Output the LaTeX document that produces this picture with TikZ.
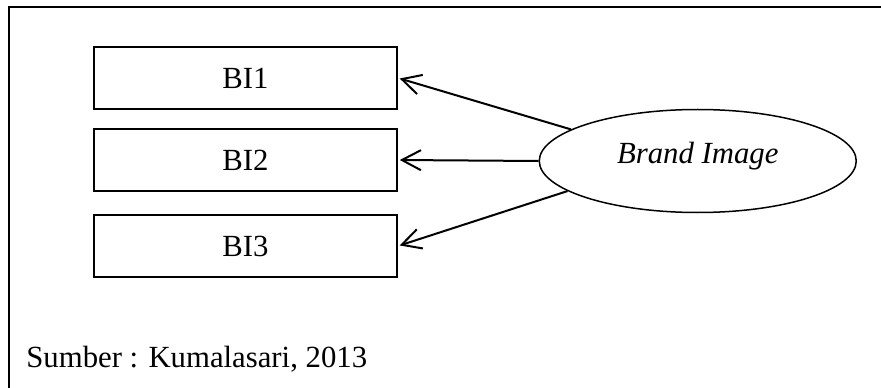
\documentclass[tikz,border=0pt]{standalone}
\usepackage{fontspec}
\setmainfont{Liberation Serif}
\usetikzlibrary{arrows.meta,positioning,shapes.geometric}

\begin{document}
\begin{tikzpicture}[
    txt/.style={font=\fontsize{17.5}{20}\selectfont},
    box/.style={draw, line width=0.04cm, minimum width=6.06cm, minimum height=1.24cm, inner sep=0pt, txt},
    oval/.style={ellipse, draw, line width=0.03cm, minimum width=6.34cm, minimum height=2.06cm, inner sep=0pt},
    arrow/.style={-{Straight Barb[length=3.8mm,width=4mm]}, line width=0.04cm, shorten >=1pt}
  ]
    \useasboundingbox (0,0) rectangle (17.62,-7.74);
    \clip (0,0) rectangle (17.62,-7.74);
    \draw[line width=0.04cm] (0.18,-0.14) rectangle (18,-8);
    \node[box] (bi1) at (4.91,-1.56) {BI1};
    \node[box, below=0.36cm of bi1] (bi2) {BI2};
    \node[box, below=0.44cm of bi2] (bi3) {BI3};
    \node[oval, right=2.81cm of bi2, yshift=-0.02cm] (brand) {};
    \node[txt, font=\fontsize{17.5}{20}\selectfont\itshape, anchor=base, inner sep=0pt] (brandlbl) at ([yshift=-0.05cm]brand.center) {Brand Image};
    \node[txt, anchor=base west, inner sep=0pt] (src) at (0.52,-7.34) {Sumber : Kumalasari, 2013};
    \draw[arrow] (brand.166) -- (bi1.east);
    \draw[arrow] (brand.west) -- (bi2.east);
    \draw[arrow] (brand.193) -- (bi3.east);
  \end{tikzpicture}
\end{document}
